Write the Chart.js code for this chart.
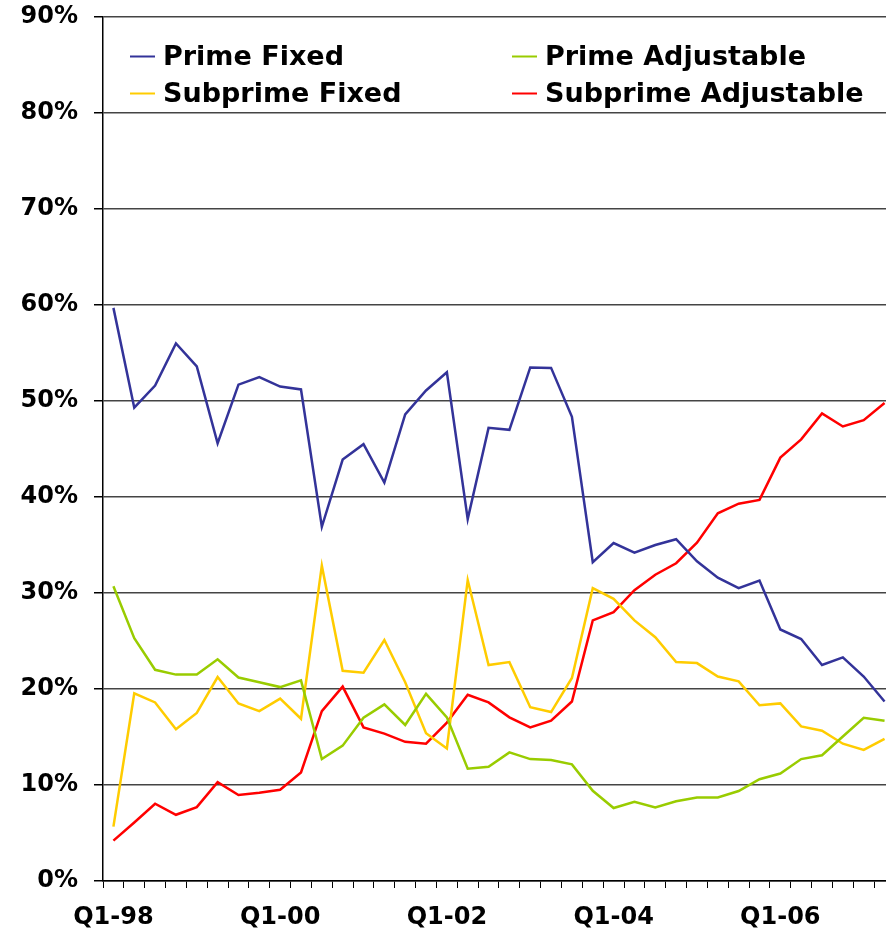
<!DOCTYPE html>
<html>
<head>
<meta charset="utf-8">
<script src="https://cdn.jsdelivr.net/npm/chart.js@4/dist/chart.umd.min.js"></script>
<style>
  html, body { margin: 0; padding: 0; background: #fff; overflow: hidden; }
  #wrap { width: 886px; height: 929px; }
</style>
</head>
<body>
<div id="wrap"><canvas id="c" width="886" height="929"></canvas></div>
<script>
// Quarterly share of originations by loan type, Q1-1998 to Q2-2007 (percent)
const quarters = [
  'Q1-98','Q2-98','Q3-98','Q4-98','Q1-99','Q2-99','Q3-99','Q4-99',
  'Q1-00','Q2-00','Q3-00','Q4-00','Q1-01','Q2-01','Q3-01','Q4-01',
  'Q1-02','Q2-02','Q3-02','Q4-02','Q1-03','Q2-03','Q3-03','Q4-03',
  'Q1-04','Q2-04','Q3-04','Q4-04','Q1-05','Q2-05','Q3-05','Q4-05',
  'Q1-06','Q2-06','Q3-06','Q4-06','Q1-07','Q2-07'
];
const tickLabels = ['Q1-98', 'Q1-00', 'Q1-02', 'Q1-04', 'Q1-06'];

const primeFixed = [59.7, 49.3, 51.6, 56.0, 53.6, 45.6, 51.7, 52.5, 51.5, 51.2,
  36.9, 43.9, 45.5, 41.5, 48.6, 51.1, 53.0, 37.7, 47.2, 47.0,
  53.5, 53.45, 48.35, 33.2, 35.2, 34.2, 35.0, 35.6, 33.3, 31.6,
  30.5, 31.3, 26.2, 25.2, 22.5, 23.3, 21.3, 18.7];
const primeAdjustable = [30.7, 25.3, 22.0, 21.5, 21.5, 23.1, 21.2, 20.7, 20.2, 20.9,
  12.7, 14.1, 17.0, 18.4, 16.25, 19.5, 17.05, 11.7, 11.9, 13.4,
  12.7, 12.6, 12.15, 9.4, 7.6, 8.26, 7.67, 8.3, 8.7, 8.7,
  9.37, 10.6, 11.2, 12.7, 13.1, 15.05, 17.0, 16.7];
const subprimeFixed = [5.66, 19.55, 18.6, 15.8, 17.5, 21.25, 18.5, 17.7, 19.0, 16.9,
  32.85, 21.9, 21.7, 25.1, 20.7, 15.4, 13.8, 31.35, 22.5, 22.8,
  18.1, 17.6, 21.15, 30.5, 29.4, 27.15, 25.4, 22.8, 22.7, 21.3,
  20.8, 18.3, 18.5, 16.1, 15.65, 14.3, 13.65, 14.8];
const subprimeAdjustable = [4.2, 6.1, 8.05, 6.9, 7.7, 10.3, 8.96, 9.2, 9.5, 11.3,
  17.7, 20.25, 16.0, 15.35, 14.5, 14.3, 16.5, 19.4, 18.6, 17.05,
  16.0, 16.7, 18.7, 27.15, 28.0, 30.3, 31.9, 33.1, 35.25, 38.3,
  39.3, 39.7, 44.1, 46.0, 48.7, 47.35, 48.0, 49.8];

const FONT = 'DejaVu Sans, Verdana, sans-serif';
const toPoints = arr => arr.map((v, i) => ({ x: i, y: v }));

function series(label, values, color) {
  return {
    label, data: toPoints(values), borderColor: color, backgroundColor: color,
    borderWidth: 2.5, pointRadius: 0, tension: 0, fill: false
  };
}

// Two-column legend drawn inside the plot area
const gridLegend = {
  id: 'gridLegend',
  afterDraw(chart) {
    const ctx = chart.ctx;
    const colX = [130, 512];
    const rowY = [56, 93];
    ctx.save();
    ctx.font = 'bold 27px ' + FONT;
    ctx.textAlign = 'left';
    ctx.textBaseline = 'alphabetic';
    chart.data.datasets.forEach((ds, i) => {
      const x = colX[i % 2];
      const y = rowY[Math.floor(i / 2)];
      ctx.strokeStyle = ds.borderColor;
      ctx.lineWidth = 2;
      ctx.beginPath();
      ctx.moveTo(x, y + 0.5);
      ctx.lineTo(x + 25, y + 0.5);
      ctx.stroke();
      ctx.fillStyle = '#000';
      ctx.fillText(ds.label, x + 33, y + 9);
    });
    ctx.restore();
  }
};

new Chart(document.getElementById('c'), {
  type: 'line',
  data: {
    datasets: [
      series('Prime Fixed', primeFixed, '#333399'),
      series('Prime Adjustable', primeAdjustable, '#99CC00'),
      series('Subprime Fixed', subprimeFixed, '#FFCC00'),
      series('Subprime Adjustable', subprimeAdjustable, '#FF0000')
    ]
  },
  plugins: [gridLegend],
  options: {
    responsive: false,
    animation: false,
    layout: { padding: { top: 17, right: 0, left: 0, bottom: 0 } },
    plugins: { legend: { display: false }, tooltip: { enabled: false } },
    scales: {
      x: {
        type: 'linear',
        min: -0.5,
        max: 37.07,
        afterBuildTicks(scale) {
          // one tick mark on each quarter boundary
          scale.ticks = quarters.map((q, i) => ({ value: i - 0.5 }));
        },
        afterFit(scale) {
          scale.height = 48;
          scale.paddingRight = 0;
        },
        grid: { drawOnChartArea: false, drawTicks: true, tickLength: 7, tickColor: '#000', tickWidth: 1 },
        border: { color: '#000', width: 1.5 },
        ticks: {
          autoSkip: false, maxRotation: 0, minRotation: 0, padding: 15,
          labelOffset: 10.42, color: '#000',
          font: { family: FONT, size: 24, weight: 'bold' },
          callback(value) {
            const q = quarters[Math.round(value + 0.5)];
            return tickLabels.includes(q) ? q : '';
          }
        }
      },
      y: {
        min: 0,
        max: 90,
        afterFit(scale) {
          scale.width = 103;
          scale.paddingTop = 0;
          scale.paddingBottom = 0;
        },
        grid: { color: '#444', lineWidth: 1.5, tickLength: 9, tickColor: '#000' },
        border: { color: '#000', width: 1.5 },
        ticks: {
          stepSize: 10, padding: 16, color: '#000',
          font: { family: FONT, size: 24, weight: 'bold' },
          callback: v => v + '%'
        }
      }
    }
  }
});
</script>
</body>
</html>
